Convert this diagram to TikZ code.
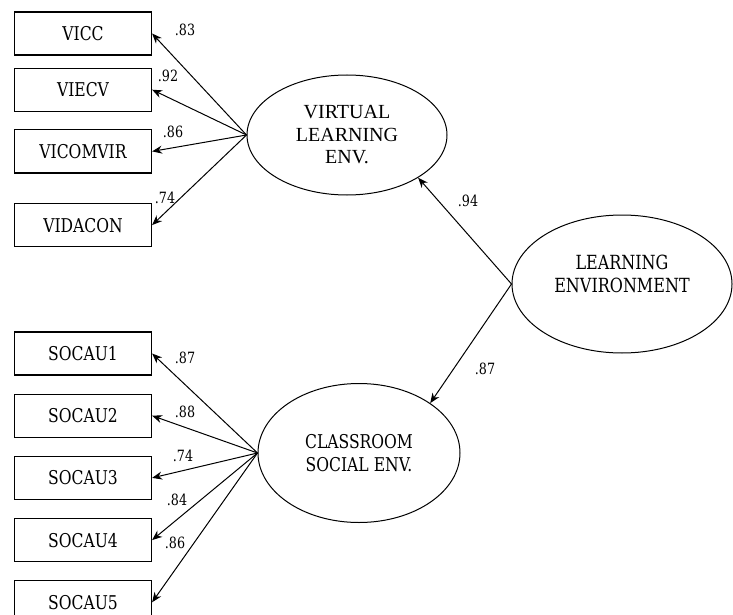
\documentclass[tikz,border=0pt]{standalone}
\usepackage{fontspec}
\setmainfont{DejaVu Serif}[FakeStretch=0.82]
\newfontfamily\timesfont{Liberation Serif}
\usetikzlibrary{arrows.meta, positioning, shapes}
\newcommand{\boxwidth}{137pt}
\newcommand{\boxheight}{43pt}
\tikzstyle{indicator} = [% observed variable
  rectangle,
  minimum width=\boxwidth,
  minimum height=\boxheight,
  text centered,
  draw=black,
  line width=1.2pt,
  font=\fontsize{19}{21}\selectfont
  ]
\tikzstyle{latent} = [% latent factor
  ellipse,
  align=center,
  inner sep=0pt,
  draw=black,
  line width=1pt,
  font=\fontsize{19}{23}\selectfont
  ]
\tikzstyle{coef} = [% standardized loading
  font=\fontsize{15.5}{17}\selectfont
  ]
\tikzstyle{arrow} = [% arrow format
  line width=1pt,
  ->,
  >={Stealth[length=10pt,width=8pt]}
  ]

\begin{document}
\begin{tikzpicture}[x=1pt, y=-1pt]
\useasboundingbox (0,0) rectangle (733,615);

%%% Latent factors
\node[latent, minimum width=200pt, minimum height=120pt,
  font=\timesfont\fontsize{20}{22.5}\selectfont] (vle) at (347,135) {VIRTUAL\\LEARNING\\ENV.};
\node[latent, minimum width=202pt, minimum height=139pt] (cse) at (359,453) {CLASSROOM\\SOCIAL ENV.};
\node[latent, minimum width=220pt, minimum height=138pt] (le) at (622,284) {};
\node[align=center, font=\fontsize{19.5}{23}\selectfont] (le text) at ([yshift=10pt]le.center) {LEARNING\\ENVIRONMENT};

%%% Indicators
\node[indicator] (vicc) at (83,33.5) {VICC};
\node[indicator] (viecv) [below=12pt of vicc] {VIECV};
\node[indicator] (vicomvir) [below=17.5pt of viecv] {VICOMVIR};
\node[indicator] (vidacon) [below=29.5pt of vicomvir] {VIDACON};

\node[indicator] (socau1) at (83,353.5) {SOCAU1};
\node[indicator] (socau2) [below=18pt of socau1] {SOCAU2};
\node[indicator] (socau3) [below=18pt of socau2] {SOCAU3};
\node[indicator] (socau4) [below=18pt of socau3] {SOCAU4};
\node[indicator] (socau5) [below=18pt of socau4] {SOCAU5};

%%% Arrows
\foreach \v in {vicc, viecv, vicomvir, vidacon}
  \draw[arrow] (vle.west) -- (\v.east);
\foreach \v in {socau1, socau2, socau3, socau4, socau5}
  \draw[arrow] (cse.west) -- (\v.east);
\draw[arrow] (le.west) -- (vle.-31);
\draw[arrow] (le.west) -- (cse.35);

%%% Loadings
\node[coef] (l vicc) at (185,30) {.83};
\node[coef] (l viecv) at (168,76) {.92};
\node[coef] (l vicomvir) at (173,132) {.86};
\node[coef] (l vidacon) at (165,198) {.74};
\node[coef] (l socau1) at (185,358) {.87};
\node[coef] (l socau2) at (185,412) {.88};
\node[coef] (l socau3) at (183,456) {.74};
\node[coef] (l socau4) at (177,500) {.84};
\node[coef] (l socau5) at (175,543) {.86};
\node[coef] (l vle) at (468,201) {.94};
\node[coef] (l cse) at (485,369) {.87};

\end{tikzpicture}
\end{document}
